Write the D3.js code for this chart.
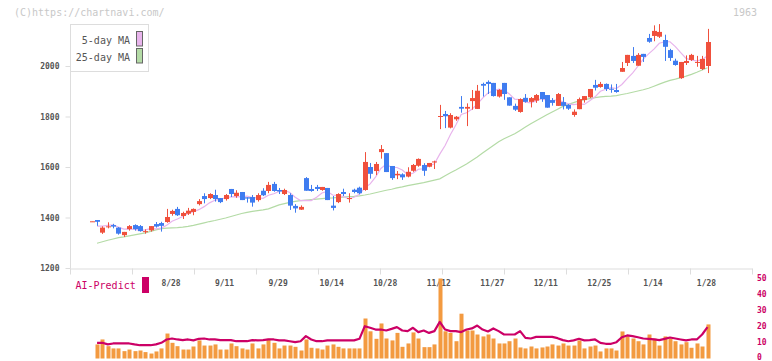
<!DOCTYPE html>
<html><head><meta charset="utf-8">
<script src="https://cdn.jsdelivr.net/npm/d3@7"></script>
<style>
body{margin:0;background:#fff}
svg{display:block}
text{font-family:"DejaVu Sans Mono","Liberation Mono",monospace}
</style>
</head><body>
<svg id="chart" width="772" height="361"></svg>
<script>
// ---- data ----
const opens = [1384,1390,1340,1364,1370,1360,1330,1354,1370,1366,1342,1349,1374,1378,1382,1414,1434,1406,1415,1422,
1453,1485,1477,1489,1477,1473,1513,1485,1501,1480,1481,1469,1506,1505,1533,1509,1493,1489,1446,1431,
1556,1513,1521,1509,1517,1447,1461,1501,1473,1510,1518,1509,1600,1584,1659,1655,1604,1567,1571,1562,
1585,1605,1608,1601,1620,1800,1810,1756,1789,1838,1831,1861,1830,1929,1937,1933,1879,1933,1876,1842,
1818,1874,1858,1863,1897,1885,1865,1842,1857,1846,1806,1829,1865,1876,1925,1917,1929,1910,1905,1977,
2012,2040,2001,2048,2111,2119,2116,2103,2063,2021,1952,2012,2024,2014,1988,2000];
const highs = [1385,1390,1365,1381,1375,1362,1343,1370,1373,1370,1353,1366,1382,1383,1434,1431,1442,1423,1438,1436,
1473,1496,1496,1510,1477,1493,1513,1508,1501,1480,1489,1496,1516,1541,1541,1517,1514,1496,1453,1448,
1560,1529,1529,1521,1517,1485,1496,1514,1496,1514,1522,1659,1616,1620,1687,1655,1604,1584,1575,1599,
1612,1634,1615,1616,1625,1846,1822,1813,1802,1881,1852,1905,1925,1934,1943,1933,1908,1933,1876,1851,
1872,1889,1877,1889,1897,1885,1873,1893,1877,1849,1828,1875,1881,1909,1945,1937,1931,1927,1929,2016,
2044,2075,2051,2048,2127,2161,2166,2124,2068,2029,2016,2042,2048,2040,2040,2147];
const lows = [1384,1367,1335,1357,1357,1332,1323,1348,1348,1344,1336,1344,1360,1344,1379,1407,1406,1394,1410,1409,
1448,1456,1473,1463,1457,1467,1481,1478,1469,1459,1443,1463,1485,1496,1502,1493,1489,1430,1419,1430,
1506,1502,1505,1506,1469,1428,1457,1485,1459,1496,1492,1506,1554,1568,1633,1580,1549,1552,1549,1559,
1581,1601,1565,1599,1592,1750,1754,1753,1783,1815,1762,1827,1830,1879,1889,1879,1875,1866,1843,1822,
1815,1855,1836,1854,1858,1835,1843,1842,1828,1826,1799,1829,1855,1873,1903,1914,1901,1894,1894,1977,
2000,2012,2001,2016,2092,2098,2111,2020,2020,2001,1949,2004,2020,1997,1984,1972];
const closes = [1385,1383,1360,1365,1364,1336,1343,1366,1354,1346,1346,1366,1364,1367,1402,1426,1409,1418,1427,1434,
1465,1473,1493,1473,1461,1489,1493,1498,1469,1475,1459,1489,1488,1529,1505,1503,1509,1447,1436,1442,
1506,1505,1513,1521,1469,1438,1493,1493,1477,1501,1496,1620,1573,1612,1671,1580,1556,1573,1559,1581,
1608,1632,1585,1616,1622,1802,1801,1806,1799,1831,1838,1873,1902,1922,1929,1881,1905,1889,1843,1827,
1869,1858,1873,1885,1869,1835,1854,1889,1842,1831,1819,1869,1881,1909,1914,1929,1909,1908,1897,1992,
2044,2020,2044,2036,2096,2139,2135,2076,2032,2004,2016,2020,2044,2016,2028,2095];
const ma5 = [null,1366,1366,1369,1371,1362,1354,1355,1353,1349,1351,1356,1355,1358,1369,1385,1394,1404,1416,1423,
1431,1443,1458,1468,1473,1478,1482,1483,1482,1485,1479,1478,1476,1488,1494,1503,1507,1499,1480,1467,
1468,1467,1480,1497,1503,1489,1487,1483,1474,1480,1492,1517,1533,1560,1594,1611,1598,1598,1588,1570,
1575,1591,1593,1604,1613,1651,1685,1729,1766,1808,1815,1829,1849,1873,1893,1901,1908,1905,1889,1869,
1867,1857,1854,1862,1871,1864,1863,1866,1858,1850,1847,1850,1848,1862,1878,1900,1908,1914,1911,1927,
1950,1972,1999,2027,2048,2067,2090,2096,2096,2077,2053,2030,2023,2020,2025,2041];
const ma25 = [null,1298,1304,1310,1315,1320,1323,1327,1331,1335,1339,1345,1351,1356,1358,1359,1360,1362,1365,1369,
1374,1379,1384,1388,1393,1398,1404,1410,1416,1420,1424,1427,1430,1434,1442,1450,1455,1460,1464,1467,
1469,1471,1473,1475,1477,1478,1480,1481,1483,1484,1486,1489,1493,1498,1503,1508,1512,1517,1521,1526,
1530,1534,1538,1543,1548,1553,1565,1577,1588,1600,1612,1626,1640,1655,1670,1685,1700,1712,1722,1732,
1745,1758,1771,1783,1795,1807,1818,1829,1840,1848,1855,1862,1867,1871,1875,1878,1880,1881,1883,1887,
1891,1896,1901,1906,1912,1920,1928,1936,1943,1948,1954,1960,1967,1975,1984,1993];
const volumes = [null,8.8,11.9,7.7,6.3,6.3,4.6,5.6,4.6,5.0,4.0,3.1,4.4,6.3,15.6,9.8,7.7,5.6,5.6,7.5,
11.3,8.1,8.1,8.8,5.6,5.6,9.4,7.7,6.3,5.6,9.4,6.3,8.8,12.3,9.8,6.3,8.1,8.1,7.3,5.0,
11.9,6.7,6.3,5.6,8.1,8.8,7.3,6.3,6.3,6.3,6.3,25.0,17.0,12.3,21.9,12.5,11.3,16.0,7.3,9.4,
16.3,12.5,7.1,7.1,8.8,50.0,17.0,16.0,10.8,28.0,17.5,17.5,15.0,13.8,15.0,12.5,9.4,9.4,10.8,12.5,
6.9,6.3,7.5,6.3,6.9,7.5,8.8,8.1,9.4,8.1,8.1,11.3,6.3,7.5,8.1,4.4,6.3,6.3,5.0,16.9,
13.8,12.5,10.8,8.8,15.0,12.5,8.1,13.8,12.5,10.8,8.8,10.2,6.7,9.4,7.5,21.3];
const aiPredict = [null,9.8,9.8,8.8,9.4,9.4,9.4,9.4,8.8,8.3,8.3,8.3,8.8,9.8,11.9,12.5,11.9,11.5,11.9,11.3,
12.3,12.5,11.9,11.9,11.5,11.5,11.5,10.8,10.8,10.8,11.5,11.3,11.5,11.9,11.9,11.3,11.3,10.8,10.2,10.8,
14.0,11.9,10.8,10.8,11.3,11.3,11.3,11.3,11.3,11.3,12.3,20.2,19.2,18.1,18.1,17.5,18.5,19.6,17.5,17.1,
19.2,16.5,17.5,16.0,17.1,22.9,18.1,17.1,17.1,16.5,18.1,18.8,20.6,18.1,16.9,18.8,17.1,15.0,15.0,15.0,
17.1,12.9,12.5,13.5,13.5,13.5,13.5,12.7,11.5,10.8,11.3,12.3,11.3,11.5,11.9,9.8,9.2,9.2,10.2,13.3,
14.4,14.0,13.3,12.5,12.3,11.9,11.5,12.3,13.1,12.5,11.9,11.3,11.9,11.9,15.0,19.6];
const priceTicks = [1200,1400,1600,1800,2000];
const volTicks = [0,10,20,30,40,50];
const dateLabels = ["8/28","9/11","9/29","10/14","10/28","11/12","11/27","12/11","12/25","1/14","1/28"];
const dateLabelIdx = [15,25,35,45,55,65,75,85,95,105,115];
const legendNames = ["5-day MA","25-day MA"];

// ---- styling ----
const RED = "#f0503c", BLUE = "#3f7cf0", ORANGE = "#f39a40", CRIMSON = "#cc0066";
const PINK = "#e8b4ec", GREEN = "#b4dba6", AXIS = "#dddddd", TXT = "#555555";

const svg = d3.select("#chart");
const n = closes.length;
const x = d3.scaleLinear().domain([0, n - 1]).range([91.7, 707.5]);
const y = d3.scaleLinear().domain([1200, 2000]).range([268, 66]);
const yv = d3.scaleLinear().domain([0, 50]).range([358.5, 278.5]);
const grid = d3.scaleLinear().domain([0, 11]).range([70, 752]);

// header texts
svg.append("text").attr("x", 14).attr("y", 16).attr("font-size", 10).attr("fill", "#c8c8c8")
  .text("(C)https://chartnavi.com/");
svg.append("text").attr("x", 757).attr("y", 16).attr("font-size", 10).attr("fill", "#c8c8c8")
  .attr("text-anchor", "end").text("1963");

// axes
const yAxis = d3.axisLeft(y).tickValues(priceTicks).tickFormat(d3.format("d"))
  .tickSize(5).tickSizeOuter(0).tickPadding(6);
const gy = svg.append("g").attr("transform", "translate(70.5,0)").call(yAxis);
gy.select(".domain").attr("stroke", AXIS).attr("d", "M0,24V268.5");
gy.selectAll(".tick line").attr("stroke", AXIS);
gy.selectAll(".tick text").attr("fill", TXT).attr("font-size", 8)
  .attr("font-family", '"DejaVu Sans Mono",monospace').attr("font-weight", "bold");

const xAxis = d3.axisBottom(grid).tickValues(d3.range(12)).tickFormat("").tickSize(6).tickSizeOuter(0);
const gx = svg.append("g").attr("transform", "translate(0,268.5)").call(xAxis);
gx.select(".domain").attr("stroke", AXIS);
gx.selectAll(".tick line").attr("stroke", AXIS);

svg.append("g").selectAll("text").data(dateLabels).join("text")
  .attr("x", (d, i) => x(dateLabelIdx[i]) - 1).attr("y", 286)
  .attr("text-anchor", "middle").attr("font-size", 8).attr("font-weight", "bold").attr("fill", TXT)
  .text(d => d);

// moving averages
const maLine = d3.line().defined(d => d[1] != null).x(d => x(d[0])).y(d => y(d[1]));
svg.append("path").datum(ma25.map((v, i) => [i, v])).attr("d", maLine)
  .attr("fill", "none").attr("stroke", GREEN).attr("stroke-width", 1.2);
svg.append("path").datum(ma5.map((v, i) => [i, v])).attr("d", maLine)
  .attr("fill", "none").attr("stroke", PINK).attr("stroke-width", 1.2);

// candles
const cg = svg.append("g");
const idx = d3.range(n);
const col = i => closes[i] >= opens[i] ? RED : BLUE;
cg.selectAll("line").data(idx).join("line")
  .attr("x1", i => Math.round(x(i)) + 0.5).attr("x2", i => Math.round(x(i)) + 0.5)
  .attr("y1", i => y(highs[i])).attr("y2", i => y(lows[i]))
  .attr("stroke", col).attr("stroke-width", 1);
cg.selectAll("rect").data(idx).join("rect")
  .attr("x", i => Math.round(x(i)) - 2).attr("width", 5)
  .attr("y", i => y(Math.max(opens[i], closes[i])))
  .attr("height", i => Math.max(1, y(Math.min(opens[i], closes[i])) - y(Math.max(opens[i], closes[i]))))
  .attr("fill", col);

// legend
const lg = svg.append("g");
lg.append("rect").attr("x", 70.5).attr("y", 24.5).attr("width", 78).attr("height", 47)
  .attr("fill", "#fff").attr("stroke", AXIS);
const swatch = [PINK, GREEN];
legendNames.forEach((name, i) => {
  lg.append("text").attr("x", 130).attr("y", 44 + i * 16.5).attr("text-anchor", "end")
    .attr("font-size", 10).attr("fill", TXT).text(name);
  lg.append("rect").attr("x", 136.5).attr("y", 31.5 + i * 17).attr("width", 6).attr("height", 14.5)
    .attr("fill", swatch[i]).attr("stroke", "#666").attr("stroke-width", 1);
});

// volume panel
svg.append("g").selectAll("rect").data(idx.filter(i => volumes[i] != null)).join("rect")
  .attr("x", i => Math.round(x(i)) - 1.5).attr("width", 4)
  .attr("y", i => yv(volumes[i])).attr("height", i => yv(0) - yv(volumes[i]))
  .attr("fill", ORANGE);
const aiLine = d3.line().defined(d => d[1] != null).x(d => x(d[0])).y(d => yv(d[1]));
svg.append("path").datum(aiPredict.map((v, i) => [i, v])).attr("d", aiLine)
  .attr("fill", "none").attr("stroke", CRIMSON).attr("stroke-width", 2.2).attr("stroke-linejoin", "round");

svg.append("g").selectAll("text").data(volTicks).join("text")
  .attr("x", 757).attr("y", d => yv(d) + (d === 0 ? 1 : 2.5)).attr("font-size", 8).attr("font-weight", "bold")
  .attr("fill", CRIMSON).text(d => d);

svg.append("text").attr("x", 75.5).attr("y", 289).attr("font-size", 10).attr("fill", CRIMSON)
  .text("AI-Predict");
svg.append("rect").attr("x", 142).attr("y", 277).attr("width", 7).attr("height", 16).attr("fill", CRIMSON);
</script>
</body></html>
